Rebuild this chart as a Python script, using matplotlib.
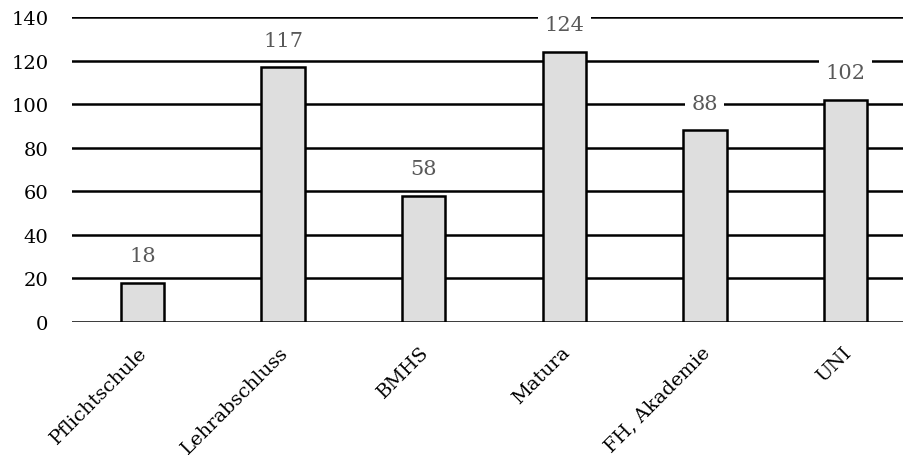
import matplotlib
matplotlib.use("Agg")
import matplotlib.pyplot as plt
from matplotlib.transforms import ScaledTranslation

categories = ["Pflichtschule", "Lehrabschluss", "BMHS", "Matura", "FH, Akademie", "UNI"]
values = [18, 117, 58, 124, 88, 102]
y_ticks = [0, 20, 40, 60, 80, 100, 120, 140]

plt.rcParams["font.family"] = ["DejaVu Serif"]

W, H = 904, 456
fig = plt.figure(figsize=(W / 100, H / 100), dpi=100)
left, right = 72, 904
bottom, top = 323, 18
ax = fig.add_axes([left / W, 1 - bottom / H, (right - left) / W, (bottom - top) / H])

x = list(range(len(categories)))
ax.bar(x, values, width=0.31, color="#dedede", edgecolor="black", linewidth=1.8, zorder=3)

ax.set_ylim(0, 140)
ax.set_xlim(-0.5, 5.5 - 12 / 140.7)
ax.set_yticks(y_ticks)
ax.set_yticklabels([str(v) for v in y_ticks], fontsize=14)
ax.yaxis.grid(True, color="black", linewidth=1.8, zorder=0)
ax.set_axisbelow(True)
ax.tick_params(axis="y", length=0, pad=17)
ax.tick_params(axis="x", length=0, pad=15)
ax.set_xticks(x)
ax.set_xticklabels(categories, rotation=45, ha="right", rotation_mode="anchor", fontsize=14)
shift = ScaledTranslation(-4 / 100, 0, fig.dpi_scale_trans)
for lbl in ax.get_xticklabels():
    lbl.set_transform(lbl.get_transform() + shift)
for s in ax.spines.values():
    s.set_visible(False)

for xi, v in zip(x, values):
    ax.annotate(str(v), (xi, v), xytext=(0, 19.5), textcoords="offset points",
                ha="center", va="center", fontsize=15, color="#595959", zorder=5,
                bbox=dict(boxstyle="square,pad=0.3", facecolor="white", edgecolor="none"))

fig.savefig("out.png", dpi=100)
